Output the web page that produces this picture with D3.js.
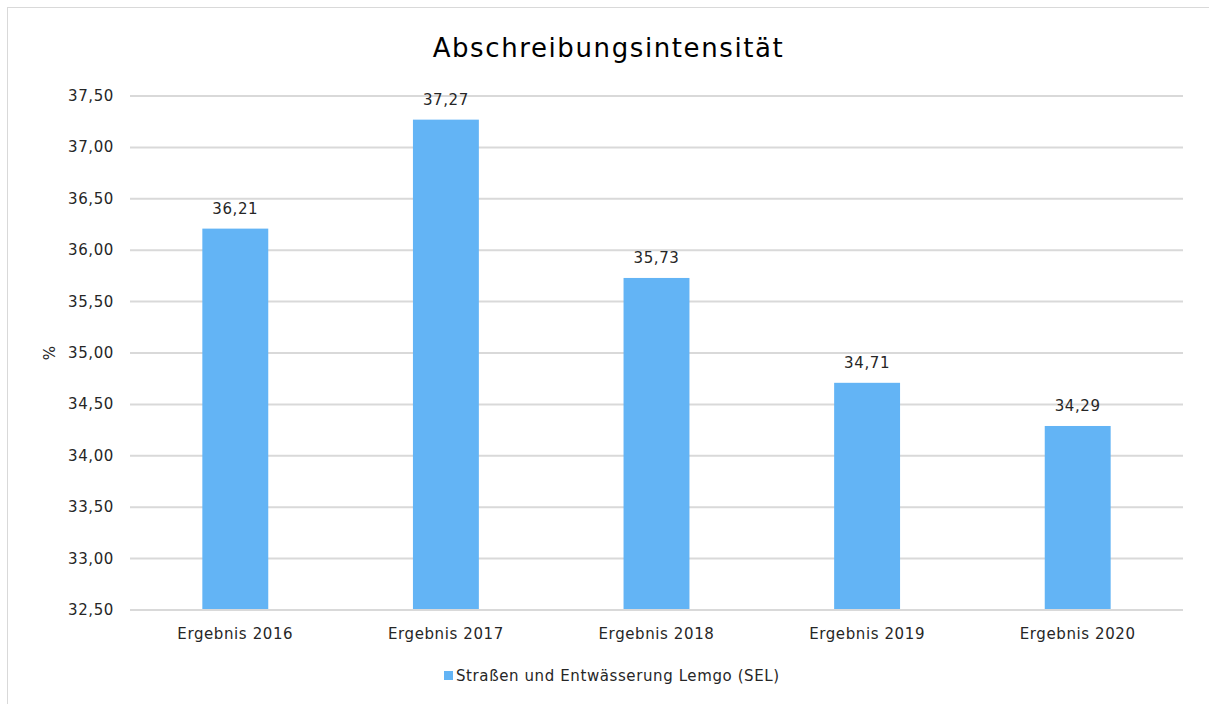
<!DOCTYPE html>
<html>
<head>
<meta charset="utf-8">
<script src="https://cdn.jsdelivr.net/npm/d3@7"></script>
<style>
  body { margin: 0; background: #fff; }
  text { font-family: Verdana, "DejaVu Sans", sans-serif; fill: #262626; }
</style>
</head>
<body>
<div id="chart"></div>
<script>
const categories = ["Ergebnis 2016", "Ergebnis 2017", "Ergebnis 2018", "Ergebnis 2019", "Ergebnis 2020"];
const values = [36.21, 37.27, 35.73, 34.71, 34.29];
const yTicks = [32.5, 33, 33.5, 34, 34.5, 35, 35.5, 36, 36.5, 37, 37.5];
const seriesName = "Straßen und Entwässerung Lemgo (SEL)";
const chartTitle = "Abschreibungsintensität";

const width = 1209, height = 704;
const margin = {top: 96, right: 26, bottom: 94, left: 130};
const barColor = "#63b4f5";

let svg = d3.select("#chart")
    .append("svg")
    .attr("width", width)
    .attr("height", height);

// outer frame
svg.append("rect")
    .attr("x", 7.5).attr("y", 7.5)
    .attr("width", width - 7).attr("height", height)
    .attr("fill", "none")
    .attr("stroke", "#d9d9d9");

let x = d3.scaleBand()
    .domain(categories)
    .range([margin.left, width - margin.right])
    .paddingInner(0.687)
    .paddingOuter(0.3435);

let y = d3.scaleLinear()
    .domain([32.5, 37.5])
    .range([height - margin.bottom, margin.top]);

let fmt = v => d3.format(".2f")(v).replace(".", ",");

// gridlines
svg.append("g")
    .selectAll("line")
    .data(yTicks)
    .enter()
    .append("line")
    .attr("x1", margin.left)
    .attr("x2", width - margin.right)
    .attr("y1", d => y(d))
    .attr("y2", d => y(d))
    .attr("stroke", "#d9d9d9")
    .attr("stroke-width", 2);

// y labels
svg.append("g")
    .selectAll("text")
    .data(yTicks)
    .enter()
    .append("text")
    .attr("x", margin.left - 16)
    .attr("y", d => y(d) + 5)
    .attr("text-anchor", "end")
    .style("font-size", "15px")
    .style("letter-spacing", "0.6px")
    .text(d => fmt(d));

// bars
svg.append("g")
    .selectAll("rect")
    .data(values)
    .enter()
    .append("rect")
    .attr("x", (d, i) => x(categories[i]))
    .attr("y", d => y(d))
    .attr("width", x.bandwidth())
    .attr("height", d => y(32.5) - y(d) - 1)
    .attr("fill", barColor);

// data labels
svg.append("g")
    .selectAll("text")
    .data(values)
    .enter()
    .append("text")
    .attr("x", (d, i) => x(categories[i]) + x.bandwidth() / 2)
    .attr("y", d => y(d) - 15)
    .attr("text-anchor", "middle")
    .style("font-size", "15px")
    .style("letter-spacing", "0.6px")
    .text(d => fmt(d));

// x labels
svg.append("g")
    .selectAll("text")
    .data(categories)
    .enter()
    .append("text")
    .attr("x", d => x(d) + x.bandwidth() / 2)
    .attr("y", height - margin.bottom + 29)
    .attr("text-anchor", "middle")
    .style("font-size", "15px")
    .style("letter-spacing", "0.6px")
    .text(d => d);

// y axis title
svg.append("text")
    .attr("transform", `translate(55, ${y(35)}) rotate(-90)`)
    .attr("text-anchor", "middle")
    .style("font-size", "15px")
    .text("%");

// title
svg.append("text")
    .attr("x", (width + 8) / 2)
    .attr("y", 57)
    .attr("text-anchor", "middle")
    .style("font-size", "26px")
    .style("letter-spacing", "1.6px")
    .style("fill", "#000")
    .text(chartTitle);

// legend
let legend = svg.append("g");
legend.append("rect")
    .attr("x", 444).attr("y", 671)
    .attr("width", 9).attr("height", 9)
    .attr("fill", barColor);
legend.append("text")
    .attr("x", 456)
    .attr("y", 681)
    .style("font-size", "15px")
    .style("letter-spacing", "0.6px")
    .text(seriesName);
</script>
</body>
</html>
